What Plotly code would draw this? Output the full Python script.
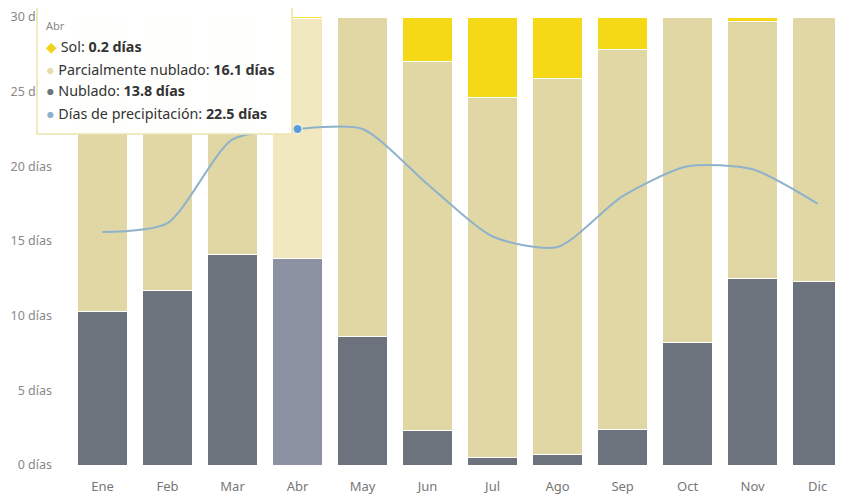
import plotly.graph_objects as go

months = ["Ene", "Feb", "Mar", "Abr", "May", "Jun", "Jul", "Ago", "Sep", "Oct", "Nov", "Dic"]
nublado = [10.3, 11.7, 14.1, 13.8, 8.6, 2.3, 0.5, 0.7, 2.4, 8.2, 12.5, 12.3]
sol = [0.0, 0.0, 0.0, 0.2, 0.0, 3.0, 5.4, 4.1, 2.2, 0.0, 0.3, 0.0]
parcial = [19.7, 18.3, 15.9, 16.1, 21.4, 24.7, 24.1, 25.2, 25.4, 21.8, 17.2, 17.7]
precip = [15.6, 16.2, 21.8, 22.5, 22.5, 18.8, 15.3, 14.6, 18.0, 20.0, 19.8, 17.5]
ytick_vals = [0, 5, 10, 15, 20, 25, 30]
ytick_text = [f"{v} días" for v in ytick_vals]

HI = 3  # highlighted month (Abr)
c_nub = ["#8d92a3" if i == HI else "#6d737c" for i in range(12)]
c_par = ["#f2e8bf" if i == HI else "#e0d7a4" for i in range(12)]
c_sol = ["#f8df3a" if i == HI else "#f6d916" for i in range(12)]

fig = go.Figure()
edge = dict(color="#ffffff", width=1)
fig.add_trace(go.Bar(x=months, y=nublado, name="Nublado", marker=dict(color=c_nub, line=edge)))
fig.add_trace(go.Bar(x=months, y=parcial, name="Parcialmente nublado", marker=dict(color=c_par, line=edge)))
fig.add_trace(go.Bar(x=months, y=sol, name="Sol", marker=dict(color=c_sol, line=edge)))
fig.add_trace(go.Scatter(x=months, y=precip, mode="lines",
                         line=dict(color="#8fb2cc", width=2, shape="spline", smoothing=0.7),
                         name="Días de precipitación"))
fig.add_trace(go.Scatter(x=[months[HI]], y=[precip[HI]], mode="markers",
                         marker=dict(color="#5b9bd5", size=9, line=dict(color="#ffffff", width=1)),
                         showlegend=False))

# page body has an 8px margin; figure sized so that page pixels line up with the reference
OFF = 8
W, H = 843 - OFF, 495 - OFF
L, R, T, B = 70 - OFF, 0, 17 - OFF, 30
pw, ph = W - L - R, H - T - B


def px(x):
    return (x - OFF - L) / pw


def py(y):
    return (H - B - (y - OFF)) / ph


fig.add_shape(type="rect", xref="paper", yref="paper", x0=px(37), x1=px(292), y0=py(134), y1=py(3),
              fillcolor="rgba(255,255,255,0.97)", line=dict(color="#ebe3b0", width=1.5), layer="above")

font = "Noto Sans, Open Sans, sans-serif"
lines = [
    (25, "<span style='color:#888'>Abr</span>", 11),
    (46, "<span style='color:#f2d31b'>◆</span> Sol: <b>0.2 días</b>", 14.3),
    (69, "<span style='color:#e3dba8'>●</span> Parcialmente nublado: <b>16.1 días</b>", 14.3),
    (91, "<span style='color:#6d737c'>●</span> Nublado: <b>13.8 días</b>", 14.3),
    (114, "<span style='color:#8fb2cc'>●</span> Días de precipitación: <b>22.5 días</b>", 14.3),
]
for yy, txt, fs in lines:
    fig.add_annotation(xref="paper", yref="paper", x=px(44), y=py(yy), xanchor="left", yanchor="middle",
                       text=txt, showarrow=False, font=dict(family=font, size=fs, color="#333"))

fig.update_layout(
    width=W, height=H, margin=dict(l=L, r=R, t=T, b=B, autoexpand=False),
    barmode="stack", bargap=0.23,
    plot_bgcolor="#ffffff", paper_bgcolor="#ffffff",
    showlegend=False,
    font=dict(family=font, size=12, color="#666"),
)
fig.update_xaxes(range=[-0.5, 11.39], showgrid=False, zeroline=False, showline=False, ticks="",
                 tickfont=dict(size=13, color="#777"), automargin=False, ticklabelstandoff=12)
fig.update_yaxes(range=[0, 30], tickvals=ytick_vals, ticktext=ytick_text, showgrid=False, zeroline=False,
                 showline=False, ticks="", ticklabelstandoff=17, tickfont=dict(size=12.5, color="#888"),
                 automargin=False)

fig.write_html("out.html")
